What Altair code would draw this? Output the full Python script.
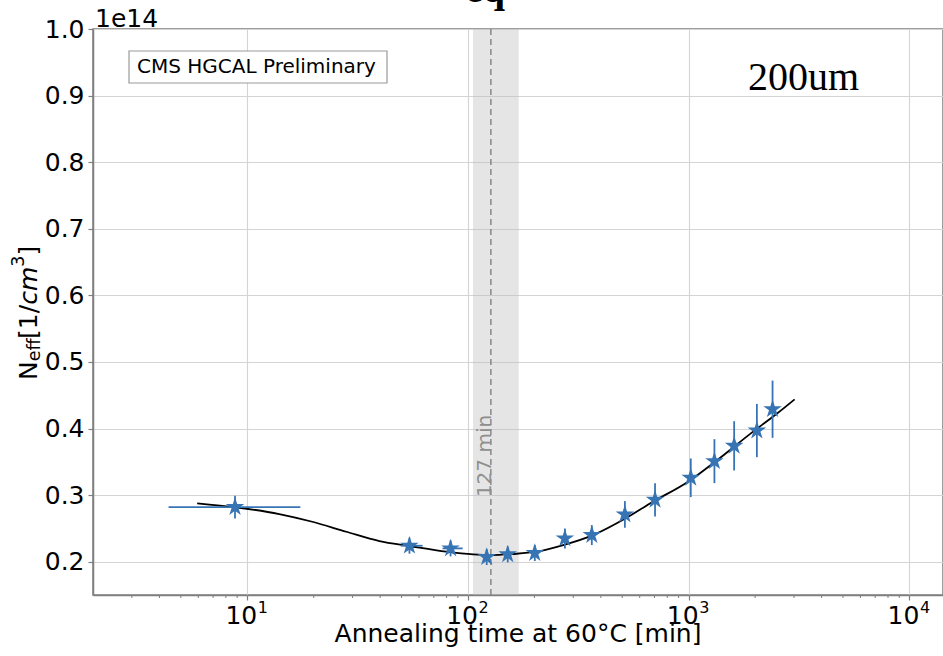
import altair as alt
import pandas as pd

# Annealing steps: cumulative time at 60 °C [min] and N_eff in units of 1e14 / cm^3
t_min = [8.8, 54.3, 83.4, 121.6, 151.4, 200.8, 274.9, 364, 514, 704, 1022, 1308, 1607, 2037, 2399]
neff = [0.282, 0.224, 0.220, 0.207, 0.211, 0.213, 0.235, 0.240, 0.271, 0.293, 0.326, 0.351, 0.374, 0.397, 0.429]
neff_err = [0.017, 0.012, 0.012, 0.012, 0.012, 0.012, 0.015, 0.015, 0.020, 0.025, 0.029, 0.033, 0.037, 0.040, 0.043]
t_lo = [4.4, 49.6, 76.7, 121.6, 151.4, 200.8, 274.9, 364, 514, 704, 1022, 1308, 1607, 2037, 2399]
t_hi = [17.4, 62.3, 94.6, 121.6, 151.4, 200.8, 274.9, 364, 514, 704, 1022, 1308, 1607, 2037, 2399]

# Fitted annealing curve
fit_t = [5.93, 8.89, 13.97, 19.7, 28.1, 39.7, 54.3, 79.8, 105.4, 127.7, 160, 204, 270, 369,
         523, 668, 1014, 1340, 1900, 2514, 3020]
fit_n = [0.2877, 0.2817, 0.2716, 0.260, 0.245, 0.231, 0.2236, 0.215, 0.211, 0.210, 0.2116, 0.215,
         0.225, 0.240, 0.266, 0.2875, 0.322, 0.352, 0.392, 0.4225, 0.4438]

# Time of minimum N_eff and its uncertainty band
t_best = 127
t_band = [105.4, 169.8]

# Axis ticks
x_major = [10, 100, 1000, 10000]
x_major_exp = ["1", "2", "3", "4"]
x_minor = [3, 4, 5, 6, 7, 8, 9, 20, 30, 40, 50, 60, 70, 80, 90,
           200, 300, 400, 500, 600, 700, 800, 900, 2000, 3000, 4000, 5000, 6000, 7000, 8000, 9000]
y_ticks = [0.2, 0.3, 0.4, 0.5, 0.6, 0.7, 0.8, 0.9, 1.0]

W, H = 850, 566
BLUE = "#3774b4"
FONT = "DejaVu Sans"

pts = pd.DataFrame({
    "t": t_min, "n": neff,
    "n_lo": [v - e for v, e in zip(neff, neff_err)],
    "n_hi": [v + e for v, e in zip(neff, neff_err)],
    "t_lo": t_lo, "t_hi": t_hi,
})
fit = pd.DataFrame({"t": fit_t, "n": fit_n})
band = pd.DataFrame({"t": [t_band[0]], "t2": [t_band[1]]})
best = pd.DataFrame({"t": [t_best], "n": [0.297], "label": [f"{t_best} min"]})
minor = pd.DataFrame({"t": x_minor})
major = pd.DataFrame({"t": x_major, "base": ["10"] * len(x_major), "exp": x_major_exp})
one = pd.DataFrame({"a": [0]})

xs = alt.Scale(type="log", domain=[2, 14200], nice=False)
ys = alt.Scale(domain=[0.15, 1.0], nice=False, zero=False)

x_axis = alt.Axis(values=x_major, grid=True, title=None, tickSize=5, labels=False)
y_axis = alt.Axis(values=y_ticks, format=".1f", grid=True, title=None, tickSize=5, labelPadding=4)


def X(field):
    return alt.X(f"{field}:Q", scale=xs, axis=x_axis)


def Y(field):
    return alt.Y(f"{field}:Q", scale=ys, axis=y_axis)


band_layer = alt.Chart(band).mark_rect(color="#bdbdbd", opacity=0.4).encode(
    x=X("t"), x2="t2", y=alt.value(0), y2=alt.value(H)
)
best_line = alt.Chart(best).mark_rule(color="#7a7a7a", strokeDash=[6, 4], strokeWidth=1.3).encode(
    x=X("t"), y=alt.value(0), y2=alt.value(H)
)
best_text = alt.Chart(best).mark_text(
    angle=270, align="left", baseline="alphabetic", font=FONT, fontSize=20, color="#8f8f8f"
).encode(x=X("t"), y=Y("n"), text="label:N")

minor_ticks = alt.Chart(minor).mark_rule(color="#7f7f7f", strokeWidth=1).encode(
    x=X("t"), y=alt.value(H), y2=alt.value(H + 3)
)

# Decade tick labels written as 10 with a raised exponent
major_base = alt.Chart(major).mark_text(
    align="right", baseline="alphabetic", font=FONT, fontSize=25, color="black", dx=10
).encode(x=X("t"), y=alt.value(H + 28.5), text="base:N")
major_exp = alt.Chart(major).mark_text(
    align="left", baseline="alphabetic", font=FONT, fontSize=16, color="black", dx=10.5
).encode(x=X("t"), y=alt.value(H + 18.3), text="exp:N")

fit_line = alt.Chart(fit).mark_line(color="black", strokeWidth=1.8, interpolate="monotone").encode(
    x=X("t"), y=Y("n")
)
yerr = alt.Chart(pts).mark_rule(color=BLUE, strokeWidth=1.8).encode(
    x=X("t"), y=Y("n_lo"), y2="n_hi"
)
xerr = alt.Chart(pts).mark_rule(color=BLUE, strokeWidth=1.8).encode(
    x=X("t_lo"), x2="t_hi", y=Y("n")
)
star = ("M0,-1L0.2245,-0.309L0.951,-0.309L0.3633,0.118L0.5878,0.809L0,0.382"
        "L-0.5878,0.809L-0.3633,0.118L-0.951,-0.309L-0.2245,-0.309Z")
stars = alt.Chart(pts).mark_point(shape=star, filled=True, size=380, color=BLUE, opacity=1).encode(
    x=X("t"), y=Y("n")
)


def label(text, x, y, size=25, **kw):
    return alt.Chart(one).mark_text(
        text=text, fontSize=size, font=kw.pop("font", FONT), color=kw.pop("color", "black"),
        align=kw.pop("align", "left"), baseline=kw.pop("baseline", "alphabetic"), **kw
    ).encode(x=alt.value(x), y=alt.value(y))


# Annotation box
box = alt.Chart(one).mark_rect(fill="white", stroke="#9a9a9a", strokeWidth=1.2).encode(
    x=alt.value(36), x2=alt.value(294), y=alt.value(22), y2=alt.value(54)
)
annotations = [
    box,
    label("CMS HGCAL Preliminary", 44, 38, size=20, baseline="middle"),
    label("200um", 655, 61, size=40, font="Liberation Serif"),
    label("1e14", 2, -2),
    label("eq", 372, -27, size=40, font="Liberation Serif", fontWeight="bold"),
    label("Annealing time at 60°C [min]", W / 2, 613, align="center"),
    # y-axis title N_eff[1/cm^3], built from rotated pieces
    label("N", -56, 351, angle=270),
    label("eff", -53.5, 332.3, size=17.5, angle=270),
    label("[1/", -56, 309.9, angle=270),
    label("cm", -56, 275.8, angle=270, fontStyle="italic"),
    label("3", -69, 237.7, size=17.5, angle=270),
    label("]", -56, 226.6, angle=270),
]

chart = alt.layer(
    band_layer, best_line, best_text, minor_ticks, major_base, major_exp,
    fit_line, yerr, xerr, stars, *annotations
).properties(
    width=W, height=H,
    padding={"left": 93, "top": 29, "right": 0, "bottom": 61},
    autosize=alt.AutoSizeParams(type="none"),
).configure_axis(
    labelFont=FONT, labelFontSize=25, labelColor="black",
    domainColor="#7f7f7f", domainWidth=1.5, tickColor="#7f7f7f", tickWidth=1.2,
    gridColor="#d4d4d4", gridWidth=1.1,
).configure_view(stroke="#7f7f7f", strokeWidth=1.5)

chart.save("out.html", embed_options={"renderer": "svg", "actions": False})
